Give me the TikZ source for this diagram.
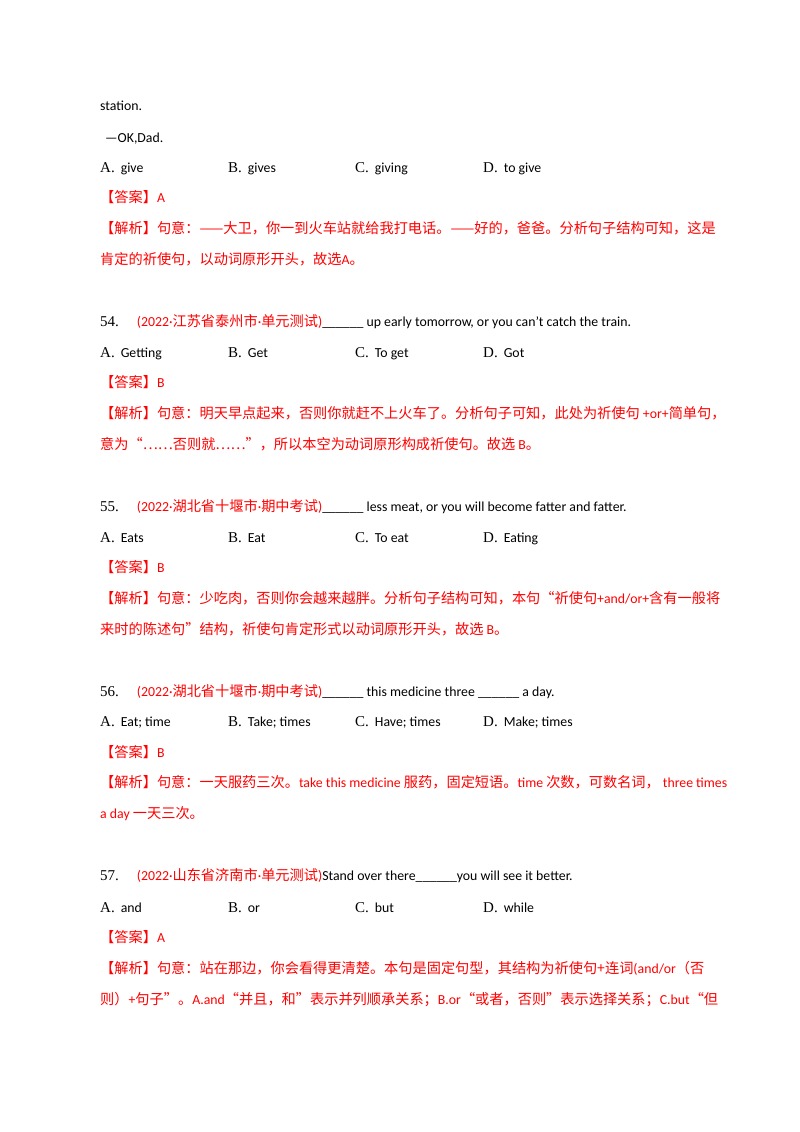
\documentclass[tikz,border=0pt]{standalone}
\usepackage{fontspec}
\setmainfont{Carlito}
\newfontfamily\cjk{Noto Sans CJK SC}
\newfontfamily\tnr{Liberation Serif}
\definecolor{ansred}{RGB}{255,0,0}
\tikzset{txt/.style={anchor=base west,inner sep=0pt,font=\fontsize{13.8}{16}\selectfont},
 red/.style={txt,text=ansred},
 opt/.style={txt}}
\newcommand{\z}[1]{{\cjk\fontsize{14.2}{16}\selectfont #1}}
\newcommand{\op}[1]{{\tnr\fontsize{15}{16}\selectfont #1.}\hspace{6pt}}
\begin{document}
\begin{tikzpicture}[x=1pt,y=-1pt]
\useasboundingbox[fill=white] (0,0) rectangle (800,1132);
\node[txt] (l1) at (100,110) {station.};
\node[txt] (l2) at (105,142) {—OK,Dad.};
\node[opt] (a1) at (100,172) {\op{A}give};
\node[opt] (b1) at (228,172) {\op{B}gives};
\node[opt] (c1) at (355,172) {\op{C}giving};
\node[opt] (d1) at (483,172) {\op{D}to give};
\node[red] (k1) at (100,202) {\z{【答案】}A};
\node[red] (e1) at (100,233) {\z{【解析】句意：——大卫，你一到火车站就给我打电话。——好的，爸爸。分析句子结构可知，这是}};
\node[red] (e1b) at (100,264) {\z{肯定的祈使句，以动词原形开头，故选}A\z{。}};

\node[txt] (n54) at (100,326) {{\tnr\fontsize{15}{16}\selectfont 54.}\hspace{18pt}\textcolor{ansred}{(2022·\z{江苏省泰州市}·\z{单元测试})}\_\_\_\_\_\_ up early tomorrow, or you can't catch the train.};
\node[opt] (a2) at (100,357) {\op{A}Getting};
\node[opt] (b2) at (228,357) {\op{B}Get};
\node[opt] (c2) at (355,357) {\op{C}To get};
\node[opt] (d2) at (483,357) {\op{D}Got};
\node[red] (k2) at (100,387) {\z{【答案】}B};
\node[red] (e2) at (100,418) {\z{【解析】句意：明天早点起来，否则你就赶不上火车了。分析句子可知，此处为祈使句} +or+\z{简单句，}};
\node[red] (e2b) at (100,449) {\z{意为“……否则就……”，所以本空为动词原形构成祈使句。故选} B\z{。}};

\node[txt] (n55) at (100,511) {{\tnr\fontsize{15}{16}\selectfont 55.}\hspace{18pt}\textcolor{ansred}{(2022·\z{湖北省十堰市}·\z{期中考试})}\_\_\_\_\_\_ less meat, or you will become fatter and fatter.};
\node[opt] (a3) at (100,542) {\op{A}Eats};
\node[opt] (b3) at (228,542) {\op{B}Eat};
\node[opt] (c3) at (355,542) {\op{C}To eat};
\node[opt] (d3) at (483,542) {\op{D}Eating};
\node[red] (k3) at (100,572) {\z{【答案】}B};
\node[red] (e3) at (100,603) {\z{【解析】句意：少吃肉，否则你会越来越胖。分析句子结构可知，本句“祈使句}+and/or+\z{含有一般将}};
\node[red] (e3b) at (100,634) {\z{来时的陈述句”结构，祈使句肯定形式以动词原形开头，故选} B\z{。}};

\node[txt] (n56) at (100,696) {{\tnr\fontsize{15}{16}\selectfont 56.}\hspace{18pt}\textcolor{ansred}{(2022·\z{湖北省十堰市}·\z{期中考试})}\_\_\_\_\_\_ this medicine three \_\_\_\_\_\_ a day.};
\node[opt] (a4) at (100,726) {\op{A}Eat; time};
\node[opt] (b4) at (228,726) {\op{B}Take; times};
\node[opt] (c4) at (355,726) {\op{C}Have; times};
\node[opt] (d4) at (483,726) {\op{D}Make; times};
\node[red] (k4) at (100,757) {\z{【答案】}B};
\node[red] (e4) at (100,787) {\z{【解析】句意：一天服药三次。}take this medicine \z{服药，固定短语。}time \z{次数，可数名词，}\hspace{3pt}three times};
\node[red] (e4b) at (100,818) {a day \z{一天三次。}};

\node[txt] (n57) at (100,880) {{\tnr\fontsize{15}{16}\selectfont 57.}\hspace{18pt}\textcolor{ansred}{(2022·\z{山东省济南市}·\z{单元测试})}Stand over there\_\_\_\_\_\_you will see it better.};
\node[opt] (a5) at (100,912) {\op{A}and};
\node[opt] (b5) at (228,912) {\op{B}or};
\node[opt] (c5) at (355,912) {\op{C}but};
\node[opt] (d5) at (483,912) {\op{D}while};
\node[red] (k5) at (100,942) {\z{【答案】}A};
\node[red] (e5) at (100,973) {\z{【解析】句意：站在那边，你会看得更清楚。本句是固定句型，其结构为祈使句+连词}(and/or\z{（否}};
\node[red] (e5b) at (100,1004) {\z{则）}+\z{句子”。}A.and\z{“并且，和”表示并列顺承关系；}B.or\z{“或者，否则”表示选择关系；}C.but\z{“但}};
\end{tikzpicture}
\end{document}
